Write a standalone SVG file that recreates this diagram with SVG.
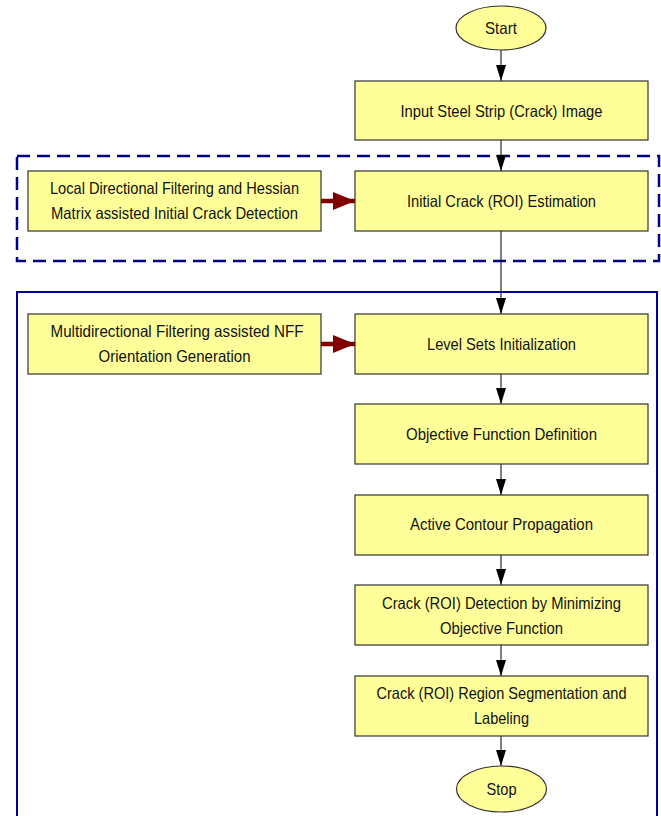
<svg xmlns="http://www.w3.org/2000/svg" width="661" height="816" viewBox="0 0 661 816">
<style>
.box{fill:#FFFF99;stroke:#333;stroke-width:1.2}
.t{font-family:"Liberation Sans",Arial,sans-serif;font-size:16.5px;fill:#111;text-anchor:middle}
.c{stroke:#000;stroke-width:1;fill:none}
.r{stroke:#800000;stroke-width:4.5;fill:none}
</style>
<defs>
<marker id="ah" markerWidth="16" markerHeight="10" refX="16" refY="5" orient="auto" markerUnits="userSpaceOnUse" viewBox="0 0 16 10">
<path d="M0,0 L16,5 L0,10 Z" fill="#000"/>
</marker>
<marker id="rh" markerWidth="22" markerHeight="18" refX="22" refY="9" orient="auto" markerUnits="userSpaceOnUse" viewBox="0 0 22 18">
<path d="M0,0 L22,9 L0,18 Z" fill="#800000"/>
</marker>
</defs>
<g id="groups">
<rect x="17" y="156" width="642" height="105" fill="none" stroke="#000088" stroke-width="2.5" stroke-dasharray="13 7"/>
<rect x="17" y="292" width="640" height="530" fill="none" stroke="#000099" stroke-width="2"/>
</g>
<g id="connectors">
<line class="c" x1="501" y1="50" x2="501" y2="81" marker-end="url(#ah)"/>
<line class="c" x1="501" y1="140" x2="501" y2="171" marker-end="url(#ah)"/>
<line class="c" x1="501" y1="231" x2="501" y2="314" marker-end="url(#ah)"/>
<line class="c" x1="501" y1="374" x2="501" y2="404" marker-end="url(#ah)"/>
<line class="c" x1="501" y1="464" x2="501" y2="495" marker-end="url(#ah)"/>
<line class="c" x1="501" y1="555" x2="501" y2="585" marker-end="url(#ah)"/>
<line class="c" x1="501" y1="645" x2="501" y2="676" marker-end="url(#ah)"/>
<line class="c" x1="501" y1="736" x2="501" y2="766" marker-end="url(#ah)"/>
<line class="r" x1="321" y1="201" x2="355" y2="201" marker-end="url(#rh)"/>
<line class="r" x1="321" y1="344" x2="355" y2="344" marker-end="url(#rh)"/>
</g>
<g id="start">
<ellipse cx="501" cy="28" rx="45" ry="22" class="box"/>
<text class="t" x="501" y="34" textLength="32" lengthAdjust="spacingAndGlyphs">Start</text>
</g>
<g id="input">
<rect class="box" x="355" y="81" width="293" height="59"/>
<text class="t" x="501.5" y="117" textLength="202" lengthAdjust="spacingAndGlyphs">Input Steel Strip (Crack) Image</text>
</g>
<g id="localdir">
<rect class="box" x="28" y="171" width="293" height="60"/>
<text class="t" x="174.5" y="194" textLength="249" lengthAdjust="spacingAndGlyphs">Local Directional Filtering and Hessian</text>
<text class="t" x="174.5" y="219" textLength="247" lengthAdjust="spacingAndGlyphs">Matrix assisted Initial Crack Detection</text>
</g>
<g id="initial">
<rect class="box" x="355" y="171" width="293" height="60"/>
<text class="t" x="501.5" y="207" textLength="189" lengthAdjust="spacingAndGlyphs">Initial Crack (ROI) Estimation</text>
</g>
<g id="multidir">
<rect class="box" x="28" y="314" width="293" height="60"/>
<text class="t" x="177" y="337" textLength="253" lengthAdjust="spacingAndGlyphs">Multidirectional Filtering assisted NFF</text>
<text class="t" x="174.5" y="362" textLength="152" lengthAdjust="spacingAndGlyphs">Orientation Generation</text>
</g>
<g id="levelsets">
<rect class="box" x="355" y="314" width="293" height="60"/>
<text class="t" x="501.5" y="350" textLength="149" lengthAdjust="spacingAndGlyphs">Level Sets Initialization</text>
</g>
<g id="objective">
<rect class="box" x="355" y="404" width="293" height="60"/>
<text class="t" x="501.5" y="440" textLength="191" lengthAdjust="spacingAndGlyphs">Objective Function Definition</text>
</g>
<g id="active">
<rect class="box" x="355" y="495" width="293" height="60"/>
<text class="t" x="501.5" y="530" textLength="183" lengthAdjust="spacingAndGlyphs">Active Contour Propagation</text>
</g>
<g id="detection">
<rect class="box" x="355" y="585" width="293" height="60"/>
<text class="t" x="501.5" y="609" textLength="239" lengthAdjust="spacingAndGlyphs">Crack (ROI) Detection by Minimizing</text>
<text class="t" x="501.5" y="634" textLength="123" lengthAdjust="spacingAndGlyphs">Objective Function</text>
</g>
<g id="segmentation">
<rect class="box" x="355" y="676" width="293" height="60"/>
<text class="t" x="501.5" y="699" textLength="250" lengthAdjust="spacingAndGlyphs">Crack (ROI) Region Segmentation and</text>
<text class="t" x="501.5" y="724" textLength="55" lengthAdjust="spacingAndGlyphs">Labeling</text>
</g>
<g id="stop">
<ellipse cx="501.5" cy="789" rx="45" ry="23" class="box"/>
<text class="t" x="501.5" y="795" textLength="30" lengthAdjust="spacingAndGlyphs">Stop</text>
</g>
</svg>
